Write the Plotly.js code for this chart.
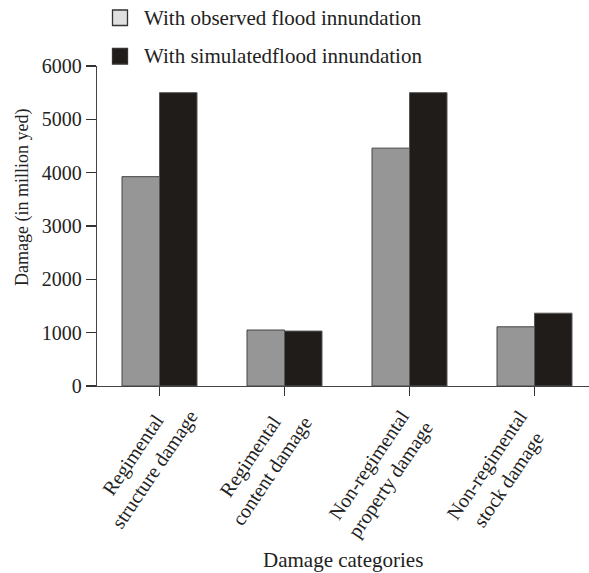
<!DOCTYPE html>
<html>
<head>
<meta charset="utf-8">
<script src="https://cdn.plot.ly/plotly-3.0.1.min.js"></script>
<style>html,body{margin:0;padding:0;background:#fff;}#chart{width:589px;height:573px;}</style>
</head>
<body>
<div id="chart"></div>
<script>
const categories = ["Regimental<br>structure damage", "Regimental<br>content damage", "Non-regimental<br>property damage", "Non-regimental<br>stock damage"];
const observed = [3925, 1050, 4460, 1110];
const simulated = [5500, 1030, 5500, 1365];
const seriesNames = ["With observed flood innundation", "With simulatedflood innundation"];
const yTicks = [0, 1000, 2000, 3000, 4000, 5000, 6000];
const xTitle = "Damage categories";
const yTitle = "Damage (in million yed)";

const FONT = "Liberation Serif, Times New Roman, serif";
const TXT = "#222";
const idx = categories.map((c, i) => i);

const traces = [
  {type: "bar", x: idx, y: observed, name: seriesNames[0],
   marker: {color: "#969696", line: {color: "#444", width: 1}}},
  {type: "bar", x: idx, y: simulated, name: seriesNames[1],
   marker: {color: "#201c1a", line: {color: "#555", width: 1}}}
];

// paper-coordinate helpers (plot area: x 97..589, y 66..386)
const L = 97, R = 0, T = 66, B = 187, W = 589, H = 573;
const pw = W - L - R, ph = H - T - B;
const px = v => (v - L) / pw;
const py = v => (H - B - v) / ph;

const legendSwatches = ["#e0e0e0", "#201c1a"];
const legendRows = [[10, 25.5], [48.5, 64]];
// label placement (layout only): pixel offsets of rotated category labels
const labelDx = [-16, -24, -30, -37];
const labelCy = [462, 464, 472, 472];

const shapes = legendRows.map((r, i) => ({
  type: "rect", xref: "paper", yref: "paper",
  x0: px(112.5), x1: px(127.5), y0: py(r[1]), y1: py(r[0]),
  fillcolor: legendSwatches[i], line: {color: "#333", width: 1.3}
}));

const annotations = [];
legendRows.forEach((r, i) => annotations.push({
  xref: "paper", yref: "paper", x: px(142), y: py((r[0] + r[1]) / 2),
  xanchor: "left", yanchor: "middle", showarrow: false,
  text: seriesNames[i], font: {family: FONT, size: 21, color: TXT}
}));
// category labels (rotated, centred lines)
categories.forEach((c, i) => annotations.push({
  xref: "x", yref: "paper", x: i, y: py(labelCy[i]), xshift: labelDx[i],
  xanchor: "center", yanchor: "middle", showarrow: false,
  textangle: -56, align: "center",
  text: c, font: {family: FONT, size: 20, color: TXT}
}));
// axis titles
annotations.push({
  xref: "paper", yref: "paper", x: px(343), y: py(560),
  xanchor: "center", yanchor: "middle", showarrow: false,
  text: xTitle, font: {family: FONT, size: 21, color: TXT}
});
annotations.push({
  xref: "paper", yref: "paper", x: px(22), y: py(198),
  xanchor: "center", yanchor: "middle", showarrow: false, textangle: -90,
  text: yTitle, font: {family: FONT, size: 18, color: TXT}
});

const layout = {
  width: W, height: H,
  margin: {l: L, r: R, t: T, b: B},
  paper_bgcolor: "#fff", plot_bgcolor: "#fff",
  showlegend: false,
  barmode: "group", bargap: 0.4, bargroupgap: 0,
  font: {family: FONT, color: TXT, size: 20},
  xaxis: {
    range: [-0.5, -0.5 + pw / 125],
    tickmode: "array", tickvals: idx, showticklabels: false,
    tickson: "boundaries",
    ticks: "outside", ticklen: 9, tickcolor: "#333", tickwidth: 1.3,
    showline: true, linecolor: "#444", linewidth: 1.3,
    showgrid: false, zeroline: false
  },
  yaxis: {
    range: [0, 6000], tickmode: "array", tickvals: yTicks,
    ticks: "outside", ticklen: 10, tickcolor: "#333", tickwidth: 1.3,
    showline: true, linecolor: "#444", linewidth: 1.3,
    showgrid: false, zeroline: false,
    tickfont: {family: FONT, size: 20, color: TXT}
  },
  shapes: shapes,
  annotations: annotations
};

Plotly.newPlot("chart", traces, layout, {displayModeBar: false, staticPlot: true});
</script>
</body>
</html>
